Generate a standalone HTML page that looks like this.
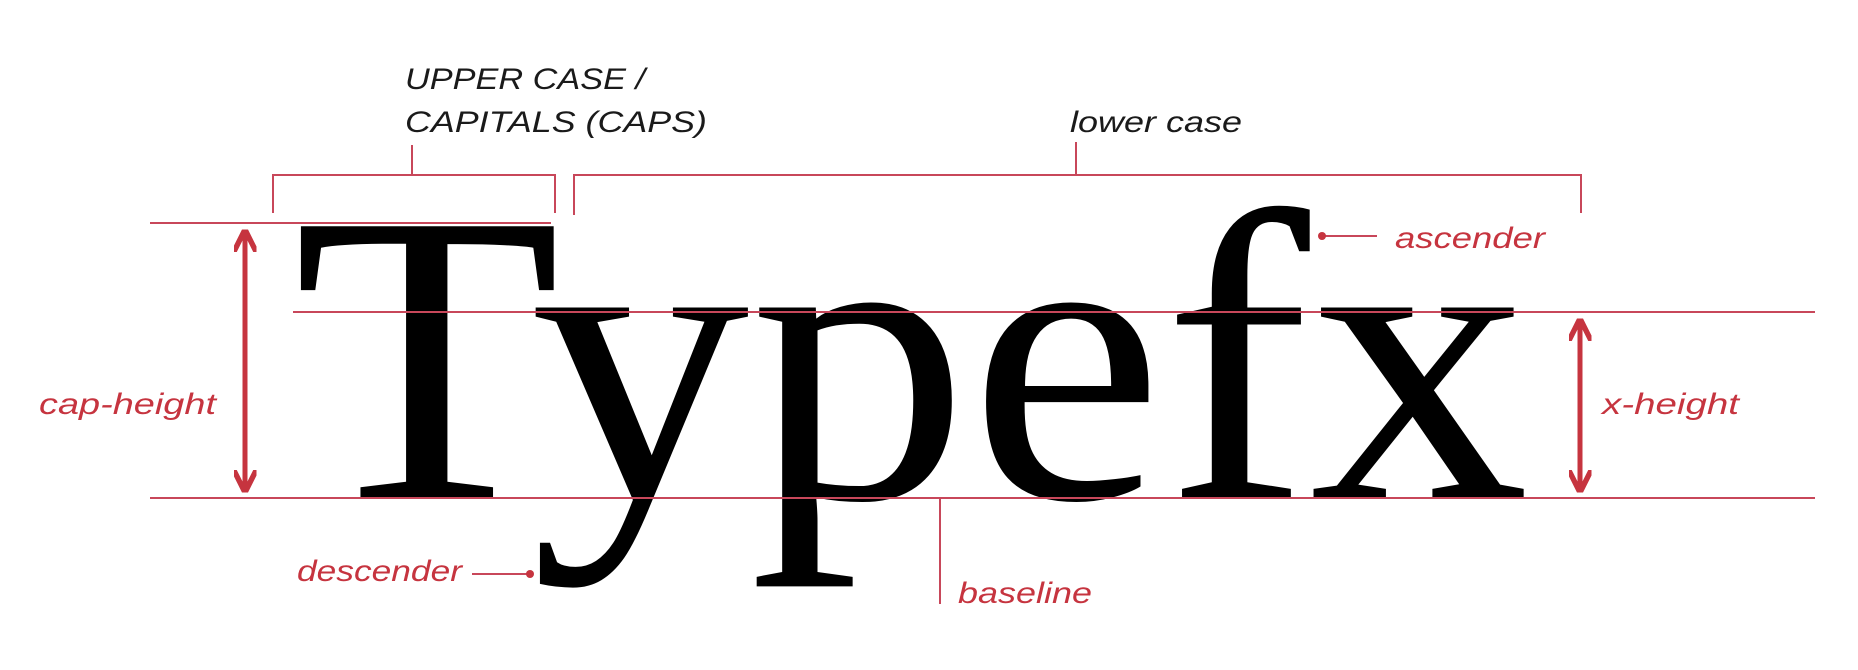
<!DOCTYPE html>
<html><head><meta charset="utf-8"><style>
html,body{margin:0;padding:0;background:#fff;width:1858px;height:670px;overflow:hidden}
svg{display:block}
.lab{font-family:"Liberation Sans",sans-serif;font-style:italic;font-size:30px}
</style></head><body>
<svg width="1858" height="670" viewBox="0 0 1858 670">
<defs>
<marker id="ah" viewBox="0 0 10 10" refX="8" refY="5" markerWidth="4.5" markerHeight="4.5" orient="auto-start-reverse"><path d="M0,0 L10,5 L0,10" fill="none" stroke="#c6343f" stroke-width="2.4"/></marker>
</defs>
<text x="293" y="498" textLength="1236" lengthAdjust="spacingAndGlyphs" font-family="Liberation Serif,serif" font-size="415" fill="#000">Typefx</text>
<g stroke="#c8475a" stroke-width="2" fill="none">
<line x1="150" y1="223" x2="551" y2="223"/>
<line x1="293" y1="312" x2="1815" y2="312"/>
<line x1="150" y1="498" x2="1815" y2="498"/>
<polyline points="273,213 273,175 555,175 555,213"/>
<line x1="412" y1="175" x2="412" y2="145"/>
<polyline points="574,215 574,175 1581,175 1581,213"/>
<line x1="1076" y1="175" x2="1076" y2="142"/>
<line x1="940" y1="498" x2="940" y2="604"/>
<line x1="1322" y1="236" x2="1377" y2="236"/>
<line x1="472" y1="574" x2="530" y2="574"/>
</g>
<circle cx="1322" cy="236" r="4" fill="#c6343f"/>
<circle cx="530" cy="574" r="4" fill="#c6343f"/>
<g stroke="#c6343f" stroke-width="5">
<line x1="245" y1="234" x2="245" y2="488" marker-start="url(#ah)" marker-end="url(#ah)"/>
<line x1="1580" y1="323" x2="1580" y2="488" marker-start="url(#ah)" marker-end="url(#ah)"/>
</g>
<g class="lab" fill="#1a1a1a">
<text x="405" y="89" textLength="240" lengthAdjust="spacingAndGlyphs">UPPER CASE /</text>
<text x="405" y="132" textLength="302" lengthAdjust="spacingAndGlyphs">CAPITALS (CAPS)</text>
<text x="1070" y="132" textLength="172" lengthAdjust="spacingAndGlyphs">lower case</text>
</g>
<g class="lab" fill="#c6343f">
<text x="1395" y="248" textLength="150" lengthAdjust="spacingAndGlyphs">ascender</text>
<text x="39" y="414" textLength="177" lengthAdjust="spacingAndGlyphs">cap-height</text>
<text x="1602" y="414" textLength="137" lengthAdjust="spacingAndGlyphs">x-height</text>
<text x="297" y="581" textLength="165" lengthAdjust="spacingAndGlyphs">descender</text>
<text x="958" y="603" textLength="134" lengthAdjust="spacingAndGlyphs">baseline</text>
</g>
</svg>
</body></html>
